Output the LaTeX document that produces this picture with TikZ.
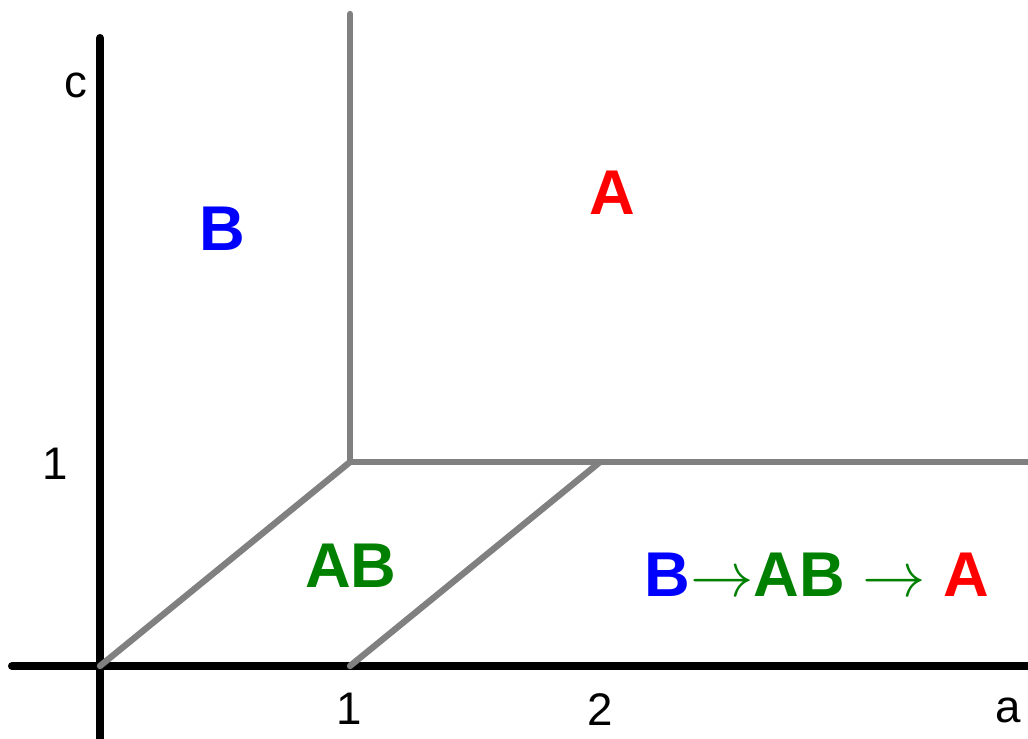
\documentclass[tikz,border=0pt]{standalone}
\usepackage{fontspec}
\setmainfont{Liberation Sans}

\definecolor{phA}{RGB}{255,0,0}
\definecolor{phB}{RGB}{0,0,255}
\definecolor{phAB}{RGB}{0,128,0}
\definecolor{edge}{RGB}{128,128,128}

\newcommand{\phto}{\scalebox{1.45}{$\rightarrow$}}

\begin{document}
\begin{tikzpicture}[
    x=0.02cm, y=-0.02cm,
    axis/.style={draw=black,line width=4.6pt,line cap=round},
    border/.style={draw=edge,line width=3.6pt,line cap=round},
    phase/.style={font=\fontsize{36}{40}\selectfont\bfseries,inner sep=0pt},
    tick/.style={font=\fontsize{26}{30}\selectfont,inner sep=0pt}
]
\useasboundingbox[fill=white] (0,0) rectangle (1028,739);

% axes
\coordinate (O)    at (100,666);
\coordinate (ctop) at (100,38);
\coordinate (cbot) at (100,750);
\coordinate (aleft)  at (12,666);
\coordinate (aright) at (1040,666);
\draw[axis] (cbot) -- (ctop);
\draw[axis] (aleft) -- (aright);

% phase boundaries
\coordinate (top)  at (350,14);
\coordinate (P)    at (350,462);
\coordinate (Q)    at (600,462);
\coordinate (E)    at (350,666);
\coordinate (R)    at (1040,462);
\draw[border] (top) -- (P) -- (R);
\draw[border] (O) -- (P);
\draw[border] (E) -- (Q);

% axis labels
\node[tick] (clab) at (76,85)   {c};
\node[tick] (c1)   at (55,464)  {1};
\node[tick] (a1)   at (349,709) {1};
\node[tick] (a2)   at (600,710) {2};
\node[tick] (alab) at (1008,710) {a};

% phases
\node[phase,text=phB]  (B)  at (222,229) {B};
\node[phase,text=phA]  (A)  at (612,193) {A};
\node[phase,text=phAB] (AB) at (351,566) {AB};
\node[phase] (seq) at (817,575) {\textcolor{phB}{B}\textcolor{phAB}{\phto AB \phto} \textcolor{phA}{A}};
\end{tikzpicture}
\end{document}
